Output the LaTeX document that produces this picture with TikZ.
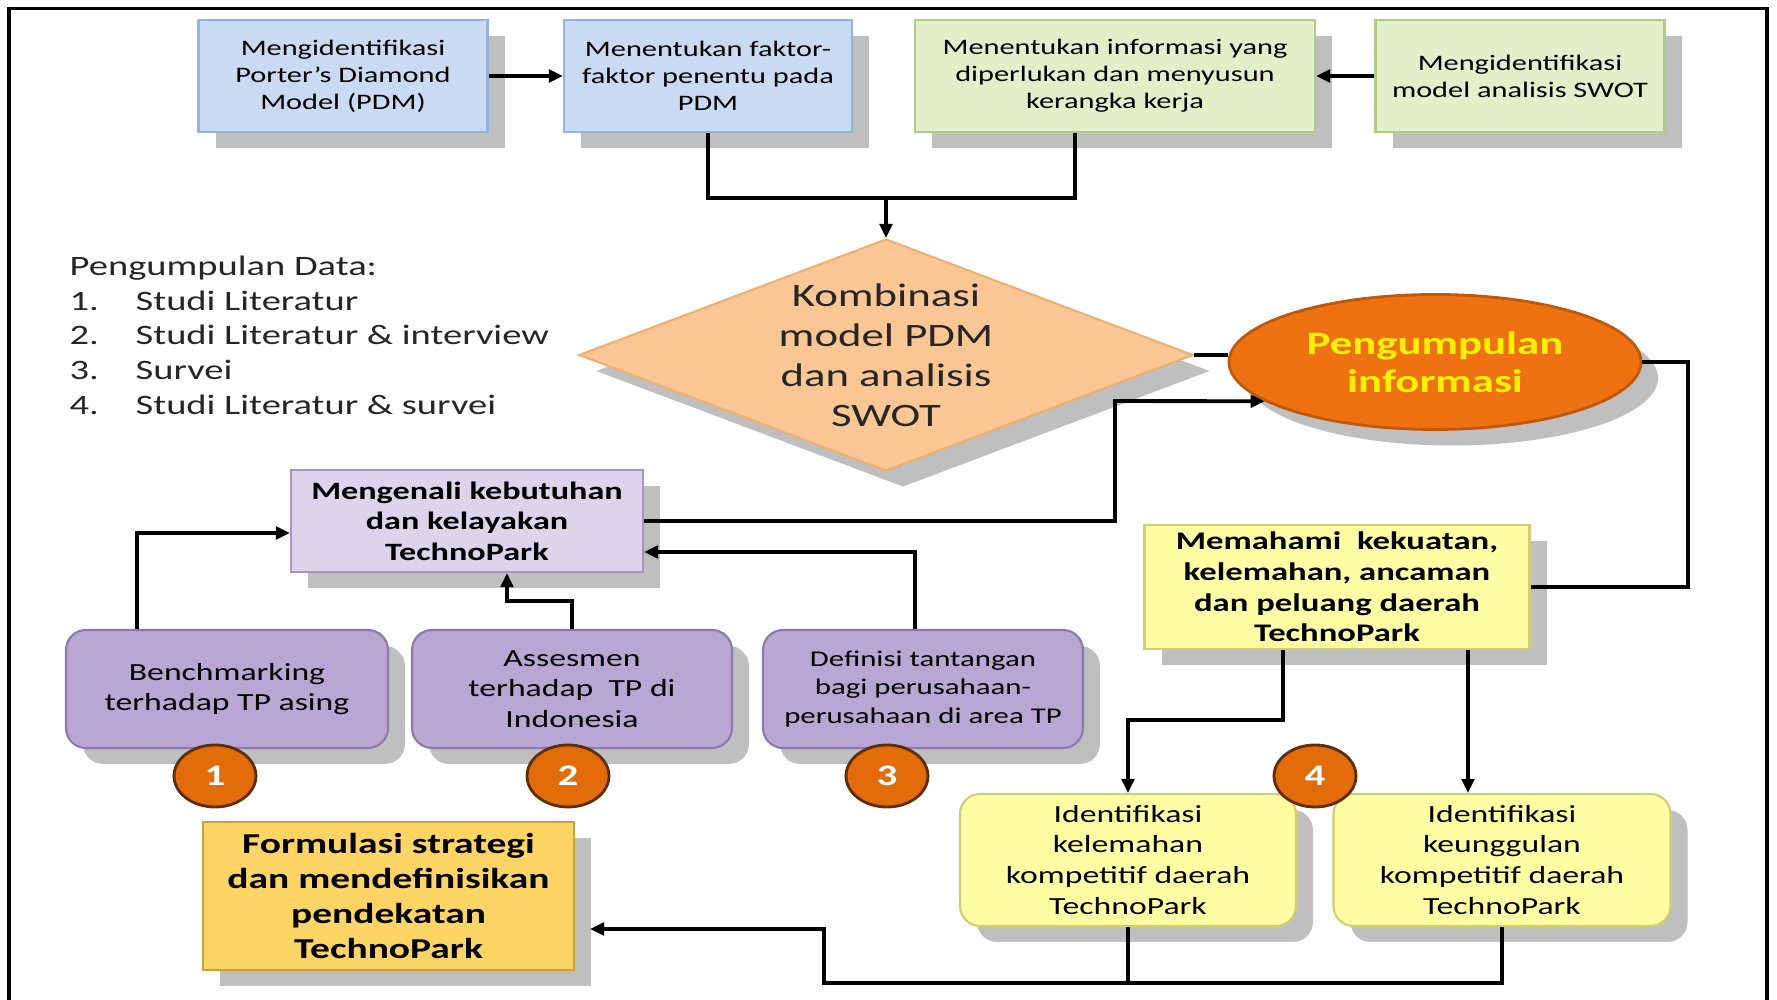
\documentclass[tikz,border=0pt]{standalone}
\usepackage{fontspec}
\setmainfont{Carlito}[FakeStretch=1.37]
\usetikzlibrary{positioning,calc,shapes.geometric,shadows,arrows.meta}

\definecolor{bluefill}{HTML}{C8DBF3}
\definecolor{blueedge}{HTML}{95B3D7}
\definecolor{greenfill}{HTML}{E3EFC9}
\definecolor{greenedge}{HTML}{B3C98A}
\definecolor{lilacfill}{HTML}{DCD4EA}
\definecolor{lilacedge}{HTML}{A596BF}
\definecolor{purpfill}{HTML}{B9A7D3}
\definecolor{purpedge}{HTML}{8C78AC}
\definecolor{peach}{HTML}{FAC794}
\definecolor{peachedge}{HTML}{EDB070}
\definecolor{infoorange}{HTML}{EE7212}
\definecolor{infoedge}{HTML}{C0580A}
\definecolor{numorange}{HTML}{E26B0A}
\definecolor{numedge}{HTML}{5E2D05}
\definecolor{lemon}{HTML}{FFFFA3}
\definecolor{lemonedge}{HTML}{CFCF70}
\definecolor{gold}{HTML}{FDD564}
\definecolor{goldedge}{HTML}{C9A23A}

\begin{document}
\begin{tikzpicture}[every node/.style={inner sep=0pt,align=center},
  shade/.style={drop shadow={shadow xshift=0.17cm,shadow yshift=-0.16cm,fill=black!25,opacity=1}},
  bluebox/.style={shade,rectangle,draw=blueedge,fill=bluefill,line width=0.6pt,minimum height=1.12cm,font=\fontsize{6.3}{7.7}\selectfont},
  greenbox/.style={bluebox,draw=greenedge,fill=greenfill},
  lilac/.style={shade,rectangle,draw=lilacedge,fill=lilacfill,line width=0.6pt,font=\bfseries\fontsize{7.1}{8.7}\selectfont},
  purp/.style={shade,rectangle,rounded corners=0.2cm,draw=purpedge,fill=purpfill,line width=0.6pt,minimum height=1.18cm,font=\fontsize{7}{8.6}\selectfont},
  lemonbox/.style={shade,rectangle,draw=lemonedge,fill=lemon,line width=0.6pt},
  num/.style={ellipse,minimum width=0.82cm,minimum height=0.62cm,fill=numorange,draw=numedge,line width=0.8pt,text=white,font=\bfseries\fontsize{8.5}{10}\selectfont},
  wire/.style={line width=1.1pt},
  arr/.style={wire,-{Triangle[length=4pt,width=3.6pt]}}]

  \useasboundingbox (0,0) rectangle (17.77,-10);
  \draw[line width=1.1pt] (0.09,-10.1) -- (0.09,-0.085) -- (17.67,-0.085) -- (17.67,-10.1);

  % top row
  \node[bluebox,minimum width=2.89cm] (pdm) at (3.43,-0.76) {Mengidentifikasi\\Porter’s Diamond\\Model (PDM)};
  \node[bluebox,minimum width=2.88cm] (fak) at (7.08,-0.76) {Menentukan faktor-\\faktor penentu pada\\PDM};
  \node[greenbox,minimum width=4cm] (info) at (11.15,-0.76) {Menentukan informasi yang\\diperlukan dan menyusun\\kerangka kerja};
  \node[greenbox,minimum width=2.89cm] (swot) at (15.2,-0.76) {Mengidentifikasi\\model analisis SWOT};

  \node[shade,diamond,aspect=2.65,minimum width=6.14cm,minimum height=2.32cm,fill=peach,draw=peachedge,line width=0.6pt,
        text=black!85,font=\fontsize{9.3}{11.4}\selectfont] (kom) at (8.86,-3.55) {Kombinasi\\model PDM\\dan analisis\\SWOT};
  \node[shade,ellipse,minimum width=4.12cm,minimum height=1.35cm,fill=infoorange,draw=infoedge,line width=0.8pt,
        text=yellow,font=\bfseries\fontsize{9.3}{10.8}\selectfont] (ell) at (14.35,-3.62) {Pengumpulan\\informasi};

  \node[anchor=north west,align=left,text=black!85,font=\fontsize{8}{9.9}\selectfont] (dat) at (0.69,-2.55)
    {Pengumpulan Data:\\\makebox[0.66cm][l]{1.}Studi Literatur\\\makebox[0.66cm][l]{2.}Studi Literatur \& interview\\
     \makebox[0.66cm][l]{3.}Survei\\\makebox[0.66cm][l]{4.}Studi Literatur \& survei};

  % left branch
  \node[lilac,minimum width=3.52cm,minimum height=1.02cm] (ment) at (4.67,-5.21) {Mengenali kebutuhan\\dan kelayakan\\TechnoPark};
  \node[purp,minimum width=3.22cm] (bench) at (2.27,-6.89) {Benchmarking\\terhadap TP asing};
  \node[purp,minimum width=3.2cm] (asses) at (5.72,-6.89) {Assesmen\\terhadap\ \ TP di\\Indonesia};
  \node[purp,minimum width=3.2cm,font=\fontsize{6.4}{8}\selectfont] (defi) at (9.23,-6.89) {Definisi tantangan\\bagi perusahaan-\\perusahaan di area TP};
  \node[lemonbox,fill=gold,draw=goldedge,minimum width=3.71cm,minimum height=1.48cm,font=\bfseries\fontsize{8.2}{10}\selectfont] (form) at (3.885,-8.96)
    {Formulasi strategi\\dan mendefinisikan\\pendekatan\\TechnoPark};

  % right branch
  \node[lemonbox,minimum width=3.85cm,minimum height=1.24cm,font=\bfseries\fontsize{7.2}{8.7}\selectfont] (mem) at (13.37,-5.87)
    {Memahami\ \ kekuatan,\\kelemahan, ancaman\\dan peluang daerah\\TechnoPark};
  \node[lemonbox,rounded corners=0.2cm,minimum width=3.36cm,minimum height=1.32cm,font=\fontsize{7}{8.8}\selectfont] (idw) at (11.28,-8.6)
    {Identifikasi\\kelemahan\\kompetitif daerah\\TechnoPark};
  \node[lemonbox,rounded corners=0.2cm,minimum width=3.37cm,minimum height=1.32cm,font=\fontsize{7}{8.8}\selectfont] (ids) at (15.02,-8.6)
    {Identifikasi\\keunggulan\\kompetitif daerah\\TechnoPark};

  \node[num] (n1) at (2.15,-7.76) {1};
  \node[num] (n2) at (5.68,-7.76) {2};
  \node[num] (n3) at (8.87,-7.76) {3};
  \node[num] (n4) at (13.15,-7.76) {4};

  % connectors
  \coordinate (j1) at (8.86,-1.98);
  \draw[arr] (pdm) -- (fak);
  \draw[arr] (swot) -- (info);
  \draw[wire] (fak.south) |- (j1) -| ($(info.south)+(-0.4,0)$);
  \draw[arr] (j1) -- (kom.north);
  \draw[wire] (kom.east) -- (kom.east -| ell.west);
  \draw[wire] (ell.east) -- ++(0.46,0) |- (mem.east);

  \coordinate (c2) at (11.15,-4.01);
  \draw[arr] (ment.east) -| (c2) -- (ell.193);
  \draw[arr] ($(bench.north west)+(0.72,0)$) |- ($(ment.west)+(0,-0.12)$);
  \draw[arr] (asses.north) |- ($(ment.south)+(0.4,-0.28)$) -- ($(ment.south)+(0.4,0)$);
  \draw[arr] ($(defi.north)+(-0.08,0)$) |- ($(ment.east)+(0,-0.31)$);

  \coordinate (t2) at ($(ids.north)+(-0.34,0)$);
  \draw[arr] ($(mem.south)+(-0.54,0)$) |- ($(idw.north)+(0,0.73)$) -- (idw.north);
  \draw[arr] (t2 |- mem.south) -- (t2);
  \draw[wire] (idw.south) -- (idw.south |- 0,-9.83);
  \draw[arr] (ids.south) |- (8.24,-9.83) |- ($(form.east)+(0.15,-0.33)$);
\end{tikzpicture}
\end{document}
